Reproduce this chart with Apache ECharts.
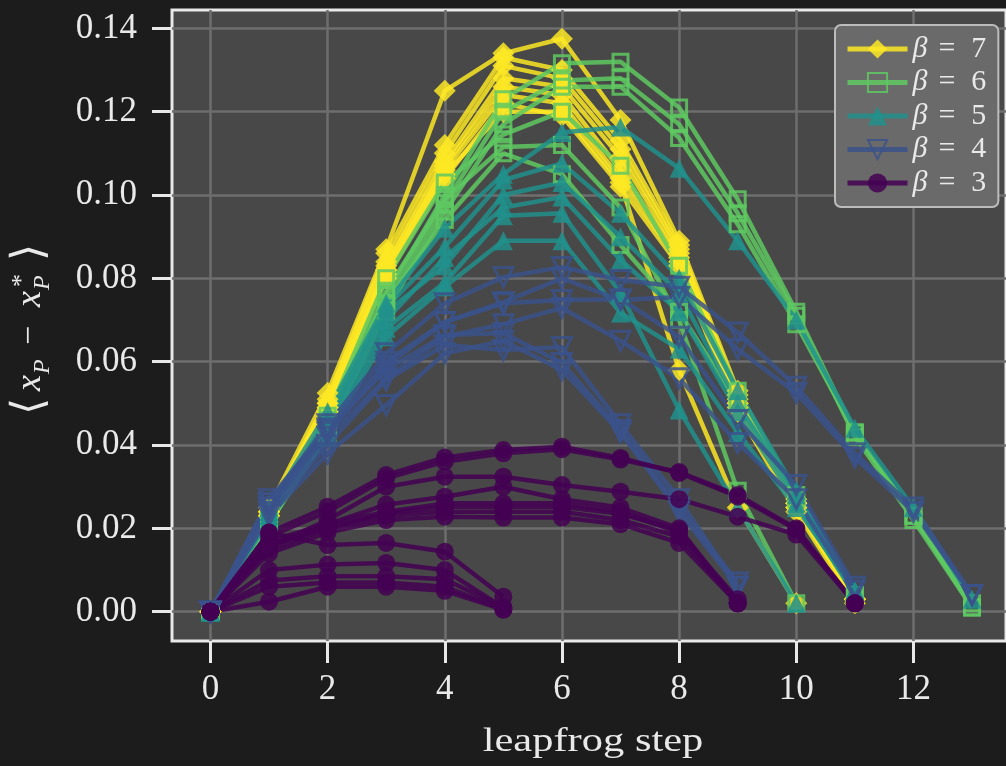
<!DOCTYPE html>
<html>
<head>
<meta charset="utf-8">
<script src="https://cdn.jsdelivr.net/npm/echarts@6/dist/echarts.min.js"></script>
<style>
  html, body { margin: 0; padding: 0; background: #1c1c1c; }
  #chart { width: 1006px; height: 766px; }
</style>
</head>
<body>
<div id="chart"></div>
<script>
// Tick positions on both axes
const xTicks = [0, 2, 4, 6, 8, 10, 12];
const yTicks = [0, 0.02, 0.04, 0.06, 0.08, 0.10, 0.12, 0.14];

// Mean displacement per leapfrog step; each inner array is one trajectory (index = step)
const beta7Runs = [
  [0, .025, .0525, .087, .125, .134, .1375, .118, .089, .053, .027, .003],
  [0, .024, .051, .086, .112, .133, .130, .113, .088, .052, .026, .003],
  [0, .024, .050, .084, .110, .131, .128, .111, .087, .051, .026, .003],
  [0, .023, .049, .083, .108, .128, .126, .109, .086, .050, .025, .003],
  [0, .024, .050, .082, .107, .126, .124, .106, .085, .050, .026, .003],
  [0, .023, .048, .081, .105, .120, .120, .103, .058, .025, .002],
  [0, .024, .049, .082, .106, .124, .122, .104, .084, .049, .025, .003],
  [0, .023, .048, .080, .104, .122, .119, .102, .083, .048, .024, .002]
];
const beta6Runs = [
  [0, .022, .045, .076, .100, .123, .1316, .132, .121, .099, .072, .043, .023, .001],
  [0, .022, .044, .074, .098, .120, .1275, .128, .117, .0956, .071, .042, .022, .001],
  [0, .021, .043, .072, .096, .117, .126, .126, .1137, .093, .069, .043, .023, .002],
  [0, .023, .047, .080, .103, .1145, .120, .107, .083, .053, .028, .004],
  [0, .022, .046, .077, .099, .1115, .112, .097, .070, .029, .002],
  [0, .021, .044, .074, .094, .110, .105, .088, .072, .050, .027, .004]
];
const beta5Runs = [
  [0, .025, .048, .074, .092, .105, .115, .1163, .1064, .089, .070, .044, .025, .003],
  [0, .024, .046, .073, .0875, .1036, .1076, .0956, .080, .053, .029, .005],
  [0, .024, .045, .072, .083, .100, .103, .090, .0765, .050, .028, .005],
  [0, .023, .044, .070, .085, .097, .0995, .0844, .072, .048, .026, .004],
  [0, .023, .043, .068, .079, .095, .0956, .0765, .0484, .025, .002],
  [0, .022, .042, .066, .078, .089, .089, .0717, .063, .043, .025, .005]
];
const beta4Runs = [
  [0, .026, .045, .062, .074, .0803, .0827, .0796, .078, .067, .054, .038, .025, .004],
  [0, .025, .043, .059, .0695, .0743, .080, .0748, .0755, .063, .0525, .037, .024, .004],
  [0, .026, .044, .060, .0695, .074, .0748, .075, .066, .046, .0304, .006],
  [0, .025, .042, .056, .066, .069, .0729, .065, .056, .0405, .027, .005],
  [0, .027, .0436, .058, .0664, .0669, .0597, .0436, .025, .007],
  [0, .024, .040, .0556, .064, .0628, .0635, .045, .027, .006],
  [0, .023, .038, .0496, .062, .065, .058, .043, .024, .006]
];
const beta3Runs = [
  [0, .019, .0252, .0328, .037, .0388, .0396, .0369, .0333, .0276, .0197, .002],
  [0, .018, .024, .032, .036, .038, .039, .0365, .0335, .028, .020, .002],
  [0, .0156, .022, .030, .0324, .0324, .0304, .0288, .027, .0228, .0185, .002],
  [0, .017, .021, .0257, .0276, .030, .027, .025, .020, .002],
  [0, .016, .020, .0237, .0252, .0252, .0252, .0235, .0195, .002],
  [0, .015, .020, .023, .024, .024, .024, .022, .018, .002],
  [0, .016, .021, .024, .026, .026, .026, .024, .019, .003],
  [0, .014, .019, .022, .0228, .0226, .0226, .021, .0165, .002],
  [0, .019, .016, .0165, .0144, .0036],
  [0, .010, .0113, .0117, .010, .001],
  [0, .0075, .0085, .0085, .0078, .001],
  [0, .006, .007, .007, .006, .0005],
  [0, .0024, .006, .006, .005, .0005]
];

const groups = [
  { name: 'β = 7', runs: beta7Runs, color: '#fde725', symbol: 'path://M0,-1L1,0L0,1L-1,0Z', size: 22, hollow: false },
  { name: 'β = 6', runs: beta6Runs, color: '#5ec962', symbol: 'rect', size: 15, hollow: true },
  { name: 'β = 5', runs: beta5Runs, color: '#21918c', symbol: 'triangle', size: 19, hollow: false },
  { name: 'β = 4', runs: beta4Runs, color: '#3b528b', symbol: 'path://M-1,-0.85L1,-0.85L0,0.9Z', size: 19, hollow: true },
  { name: 'β = 3', runs: beta3Runs, color: '#440154', symbol: 'circle', size: 18, hollow: false }
];

const series = [];
groups.forEach(g => {
  g.runs.forEach(run => {
    series.push({
      type: 'line',
      name: g.name,
      data: run.map((v, i) => [i, v]),
      symbol: g.symbol,
      symbolSize: g.size,
      showAllSymbol: true,
      lineStyle: { color: g.color, width: 4.5, opacity: 0.85 },
      itemStyle: {
        color: g.hollow ? 'rgba(0,0,0,0)' : g.color,
        borderColor: g.color,
        borderWidth: g.hollow ? 3 : 0,
        opacity: 0.85
      },
      emphasis: { disabled: true },
      animation: false
    });
  });
});

const serif = '"Liberation Serif", "Times New Roman", serif';
const txt = '#e9e9e9';

function glyph(text, u, v, font) {
  return {
    type: 'text', x: u, y: v,
    style: { text: text, font: font, fill: txt, textAlign: 'left', textVerticalAlign: 'middle', align: 'left', verticalAlign: 'middle' }
  };
}

// Rotated math label for the y axis, built glyph by glyph
const mathY = {
  type: 'group', x: 31, y: 411, rotation: Math.PI / 2, silent: true,
  children: [
    glyph('⟨', -4, 0, '44px "DejaVu Serif"'),
    glyph('x', 20, 0, 'italic 36px ' + serif),
    glyph('P', 37, 12, 'italic 24px ' + serif),
    glyph('−', 66, -1, '34px ' + serif),
    glyph('x', 104, 0, 'italic 36px ' + serif),
    glyph('P', 121, 12, 'italic 24px ' + serif),
    glyph('*', 124, -9, '26px ' + serif),
    glyph('⟩', 150, 0, '44px "DejaVu Serif"')
  ]
};

// Horizontal axis title, slightly widened
const xTitle = {
  type: 'text', x: 593, y: 742, scaleX: 1.25, silent: true,
  style: { text: 'leapfrog step', font: '34px ' + serif, fill: txt, textAlign: 'center', textVerticalAlign: 'middle', align: 'center', verticalAlign: 'middle' }
};

const chart = echarts.init(document.getElementById('chart'), null, { renderer: 'canvas' });
chart.setOption({
  backgroundColor: '#1c1c1c',
  animation: false,
  grid: {
    left: 172, top: 10, width: 840, height: 631,
    show: true, backgroundColor: '#484848', borderColor: '#e8e8e8', borderWidth: 3,
    containLabel: false
  },
  xAxis: {
    type: 'value', min: -0.656, max: 13.58,
    axisLine: { show: false, onZero: false },
    axisTick: { show: true, length: 22, lineStyle: { color: '#e8e8e8', width: 3 }, customValues: xTicks },
    axisLabel: { customValues: xTicks, color: txt, fontFamily: serif, fontSize: 35, margin: 31 },
    splitLine: { show: true, lineStyle: { color: '#6e6e6e', width: 2.5 } }
  },
  yAxis: {
    type: 'value', min: -0.00703, max: 0.1444,
    axisLine: { show: false, onZero: false },
    axisTick: { show: true, length: 20, lineStyle: { color: '#e8e8e8', width: 3 }, customValues: yTicks },
    axisLabel: { customValues: yTicks, formatter: v => v.toFixed(2), color: txt, fontFamily: serif, fontSize: 35, margin: 35 },
    splitLine: { show: true, lineStyle: { color: '#6e6e6e', width: 2.5 } }
  },
  legend: {
    orient: 'vertical', left: 835, top: 25,
    padding: [9, 12, 9, 10],
    itemWidth: 60, itemHeight: 24, itemGap: 3.5,
    backgroundColor: '#6a6a6a', borderColor: '#bcbcbc', borderWidth: 2, borderRadius: 6,
    lineStyle: { width: 5 },
    data: groups.map(g => g.name),
    formatter: name => '{b|β}{e|=}{n|' + name.slice(-1) + '}',
    textStyle: {
      color: txt, fontFamily: serif, fontSize: 30,
      rich: {
        b: { fontStyle: 'italic', fontFamily: serif, fontSize: 30, color: txt },
        e: { fontFamily: serif, fontSize: 30, color: txt, padding: [0, 0, 0, 11] },
        n: { fontFamily: serif, fontSize: 30, color: txt, padding: [0, 0, 0, 16] }
      }
    }
  },
  graphic: [mathY, xTitle],
  series: series
});
</script>
</body>
</html>
